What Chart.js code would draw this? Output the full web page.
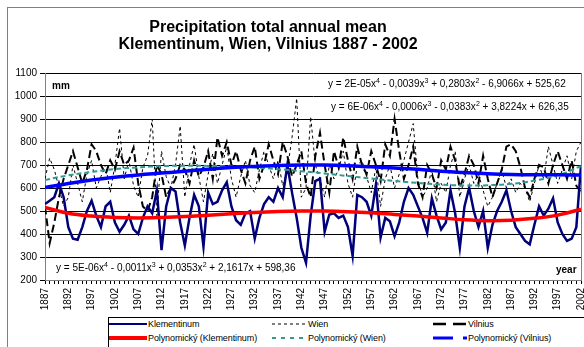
<!DOCTYPE html>
<html>
<head>
<meta charset="utf-8">
<script src="https://cdn.jsdelivr.net/npm/chart.js@4.4.1/dist/chart.umd.min.js"></script>
<style>
  html, body { margin:0; padding:0; background:#fff; }
  body { width:584px; height:347px; overflow:hidden; position:relative; font-family: Arial, "Liberation Sans", sans-serif; }
  #frame { position:absolute; left:7px; top:7px; width:620px; height:380px; border:1px solid #808080; }
  canvas { position:absolute; left:0; top:0; }
  .t { position:absolute; white-space:nowrap; color:#000; }
  .title { left:0; width:536px; text-align:center; font-weight:bold; font-size:16px; line-height:16px; }
  .eq { font-size:10px; line-height:12px; }
  .eq s { text-decoration:none; font-size:7px; position:relative; top:-4px; }
  .lab { font-weight:bold; font-size:10px; line-height:12px; }
  #legend { position:absolute; left:108px; top:317px; width:500px; height:40px; border:1px solid #000; background:#fff; }
  .lg { position:absolute; font-size:9px; line-height:12px; white-space:nowrap; letter-spacing:-0.1px; }
  svg.sym { position:absolute; overflow:visible; }
</style>
</head>
<body>
<div id="frame"></div>
<canvas id="c" width="584" height="347"></canvas>

<div class="t title" style="top:19px;">Precipitation total annual mean</div>
<div class="t title" style="top:36px;">Klementinum, Wien, Vilnius 1887 - 2002</div>

<div class="t lab" style="left:52px; top:80px;">mm</div>
<div class="t lab" style="left:556px; top:264px;">year</div>

<div class="t eq" style="left:328px; top:78px;">y = 2E-05x<s>4</s> - 0,0039x<s>3</s> + 0,2803x<s>2</s> - 6,9066x + 525,62</div>
<div class="t eq" style="left:331px; top:101px;">y = 6E-06x<s>4</s> - 0,0006x<s>3</s> - 0,0383x<s>2</s> + 3,8224x + 626,35</div>
<div class="t eq" style="left:56px; top:262px;">y = 5E-06x<s>4</s> - 0,0011x<s>3</s> + 0,0353x<s>2</s> + 2,1617x + 598,36</div>

<div id="legend"></div>

<script>
// ---------------- data ----------------
const startYear = 1887;
const endYear = 2002;

const klementinum = [
  530, 545, 560, 620, 560, 430, 380, 375, 430, 500,
  545, 480, 430, 520, 540, 450, 410, 440, 480, 420,
  400, 470, 520, 490, 590, 330, 520, 600, 585, 450,
  350, 470, 570, 520, 345, 580, 530, 540, 590, 625,
  520, 460, 440, 490, 500, 380, 470, 530, 560, 540,
  600, 560, 700, 580, 470, 340, 275, 480, 630, 640,
  410, 485, 490, 470, 480, 430, 305, 570, 560, 540,
  480, 615, 385, 470, 455, 390, 450, 540, 600, 570,
  520, 470, 405, 555, 480, 420, 450, 590, 490, 340,
  520, 600, 500, 430, 500, 340, 440, 500, 540, 590,
  500, 430, 400, 370, 355, 440, 520, 480, 510, 555,
  450, 400, 370, 380, 430, 700
];

const wien = [
  640, 730, 680, 600, 520, 560, 700, 620, 540, 660,
  720, 600, 650, 700, 580, 700, 860, 640, 720, 610,
  560, 690, 740, 900, 480, 760, 650, 600, 700, 870,
  560, 700, 790, 650, 540, 660, 750, 620, 700, 780,
  640, 560, 650, 720, 610, 580, 680, 760, 700, 640,
  720, 610, 680, 820, 990, 560, 600, 910, 700, 640,
  560, 700, 640, 680, 760, 620, 560, 700, 720, 650,
  580, 690, 520, 640, 700, 600, 660, 720, 800, 880,
  640, 560, 600, 680, 540, 620, 580, 700, 760, 560,
  640, 700, 620, 660, 590, 520, 560, 620, 680, 600,
  640, 580, 620, 600, 540, 620, 700, 640, 780, 700,
  620, 680, 740, 640, 760, 800
];

const vilnius = [
  520, 360, 450, 560, 640, 700, 760, 690, 620, 680,
  790, 760, 700, 660, 720, 680, 760, 700, 720, 775,
  620, 520, 500, 560, 700, 660, 560, 600, 640, 700,
  680, 620, 720, 650, 690, 760, 640, 820, 740, 800,
  700, 760, 680, 620, 720, 780, 640, 700, 790, 720,
  660, 800, 740, 650, 700, 760, 620, 560, 740, 840,
  700, 580, 760, 690, 820, 720, 640, 780, 700, 660,
  760, 700, 630, 790, 740, 900, 760, 640, 700, 780,
  620, 560, 700, 660, 600, 720, 680, 780, 720, 600,
  660, 740, 700, 620, 740, 640, 560, 620, 680, 780,
  790, 760, 690, 600, 560, 640, 700, 690, 620, 700,
  760, 700, 640, 720, 610, 580
];

// trend lines read every 5 years
const trendYears = [1887, 1892, 1897, 1902, 1907, 1912, 1917, 1922, 1927, 1932, 1937, 1942,
                    1947, 1952, 1957, 1962, 1967, 1972, 1977, 1982, 1987, 1992, 1997, 2002];
const polyKlementinum = [515, 490, 478, 472, 470, 472, 476, 482, 488, 494, 498, 500,
                         500, 497, 492, 485, 478, 470, 462, 458, 460, 468, 482, 508];
const polyWien = [635, 655, 670, 682, 690, 695, 697, 696, 694, 689, 682, 673,
                  663, 652, 641, 631, 622, 615, 611, 612, 618, 632, 655, 695];
const polyVilnius = [602, 620, 635, 647, 657, 665, 673, 682, 689, 694, 698, 700,
                     700, 697, 692, 687, 681, 673, 667, 662, 659, 658, 658, 656];

const yMin = 200, yMax = 1100, yStep = 100;
const xLabelStep = 5;

// ---------------- chart ----------------
const FONT = 'Arial, "Liberation Sans", sans-serif';
function pts(arr, xs) { return arr.map((v, i) => ({ x: xs ? xs[i] : startYear + i, y: v })); }

const plotFrame = {
  id: 'plotFrame',
  afterDraw(chart) {
    const a = chart.chartArea, c = chart.ctx;
    c.save();
    c.strokeStyle = '#808080';
    c.lineWidth = 1;
    c.beginPath();
    c.moveTo(Math.round(a.right) + 0.5, a.top);
    c.lineTo(Math.round(a.right) + 0.5, a.bottom);
    c.stroke();
    c.restore();
  }
};

new Chart(document.getElementById('c'), {
  type: 'line',
  data: {
    datasets: [
      { label: 'Polynomický (Vilnius)', data: pts(polyVilnius, trendYears), borderColor: '#0000ff', borderWidth: 3.5, tension: 0.4 },
      { label: 'Polynomický (Klementinum)', data: pts(polyKlementinum, trendYears), borderColor: '#ff0000', borderWidth: 3.5, tension: 0.4 },
      { label: 'Polynomický (Wien)', data: pts(polyWien, trendYears), borderColor: '#2e9a92', borderWidth: 2, borderDash: [5, 3], tension: 0.4 },
      { label: 'Klementinum', data: pts(klementinum), borderColor: '#00007a', borderWidth: 2.5, tension: 0 },
      { label: 'Vilnius', data: pts(vilnius), borderColor: '#000000', borderWidth: 2, borderDash: [8, 4], tension: 0 },
      { label: 'Wien', data: pts(wien), borderColor: '#000000', borderWidth: 1, borderDash: [3, 3], tension: 0 }
    ]
  },
  options: {
    responsive: false,
    animation: false,
    devicePixelRatio: 1,
    elements: { point: { radius: 0 }, line: { fill: false } },
    layout: { padding: { top: 73, right: 3, bottom: 0, left: 0 } },
    plugins: { legend: { display: false }, title: { display: false }, tooltip: { enabled: false } },
    scales: {
      x: {
        type: 'linear',
        min: startYear, max: endYear,
        afterBuildTicks(s) {
          const t = [];
          for (let y = startYear; y <= endYear; y++) t.push({ value: y });
          s.ticks = t;
        },
        afterFit(s) { s.height = 67; s.paddingLeft = 0; s.paddingRight = 0; },
        ticks: {
          autoSkip: false, maxRotation: 90, minRotation: 90, padding: 4,
          color: '#000', font: { family: FONT, size: 10 },
          callback: v => ((v - startYear) % xLabelStep === 0 ? String(v) : '')
        },
        grid: { drawOnChartArea: false, drawTicks: true, tickLength: 4, color: '#000' },
        border: { display: true, color: '#808080' }
      },
      y: {
        min: yMin, max: yMax,
        afterFit(s) { s.width = 45; s.paddingTop = 0; s.paddingBottom = 0; },
        ticks: { stepSize: yStep, padding: 3, color: '#000', font: { family: FONT, size: 10 }, callback: v => String(v) },
        grid: { color: '#000', tickLength: 5, lineWidth: 1 },
        border: { display: true, color: '#808080' }
      }
    }
  },
  plugins: [plotFrame]
});

// ---------------- legend (HTML) ----------------
const legendItems = [
  { label: 'Klementinum', col: 0, row: 0, color: '#00007a', w: 2, dash: '' },
  { label: 'Wien', col: 1, row: 0, color: '#000', w: 1, dash: '3,3' },
  { label: 'Vilnius', col: 2, row: 0, color: '#000', w: 2.5, dash: '13,7' },
  { label: 'Polynomický (Klementinum)', col: 0, row: 1, color: '#ff0000', w: 4, dash: '' },
  { label: 'Polynomický (Wien)', col: 1, row: 1, color: '#2e9a92', w: 2, dash: '4,5' },
  { label: 'Polynomický (Vilnius)', col: 2, row: 1, color: '#0000ff', w: 3, dash: '20,10' }
];
const colSym = [[109, 147], [272, 307], [433, 467]];
const rowY = [324, 338];
legendItems.forEach(it => {
  const [x0, x1] = colSym[it.col];
  const y = rowY[it.row];
  const svg = document.createElementNS('http://www.w3.org/2000/svg', 'svg');
  svg.setAttribute('class', 'sym');
  svg.setAttribute('width', x1 - x0);
  svg.setAttribute('height', 8);
  svg.style.left = x0 + 'px';
  svg.style.top = (y - 4) + 'px';
  const ln = document.createElementNS('http://www.w3.org/2000/svg', 'line');
  ln.setAttribute('x1', 0); ln.setAttribute('x2', x1 - x0);
  ln.setAttribute('y1', 4); ln.setAttribute('y2', 4);
  ln.setAttribute('stroke', it.color);
  ln.setAttribute('stroke-width', it.w);
  if (it.dash) ln.setAttribute('stroke-dasharray', it.dash);
  svg.appendChild(ln);
  document.body.appendChild(svg);
  const d = document.createElement('div');
  d.className = 'lg';
  d.textContent = it.label;
  d.style.left = (x1 + 1) + 'px';
  d.style.top = (y - 6) + 'px';
  document.body.appendChild(d);
});
</script>
</body>
</html>
